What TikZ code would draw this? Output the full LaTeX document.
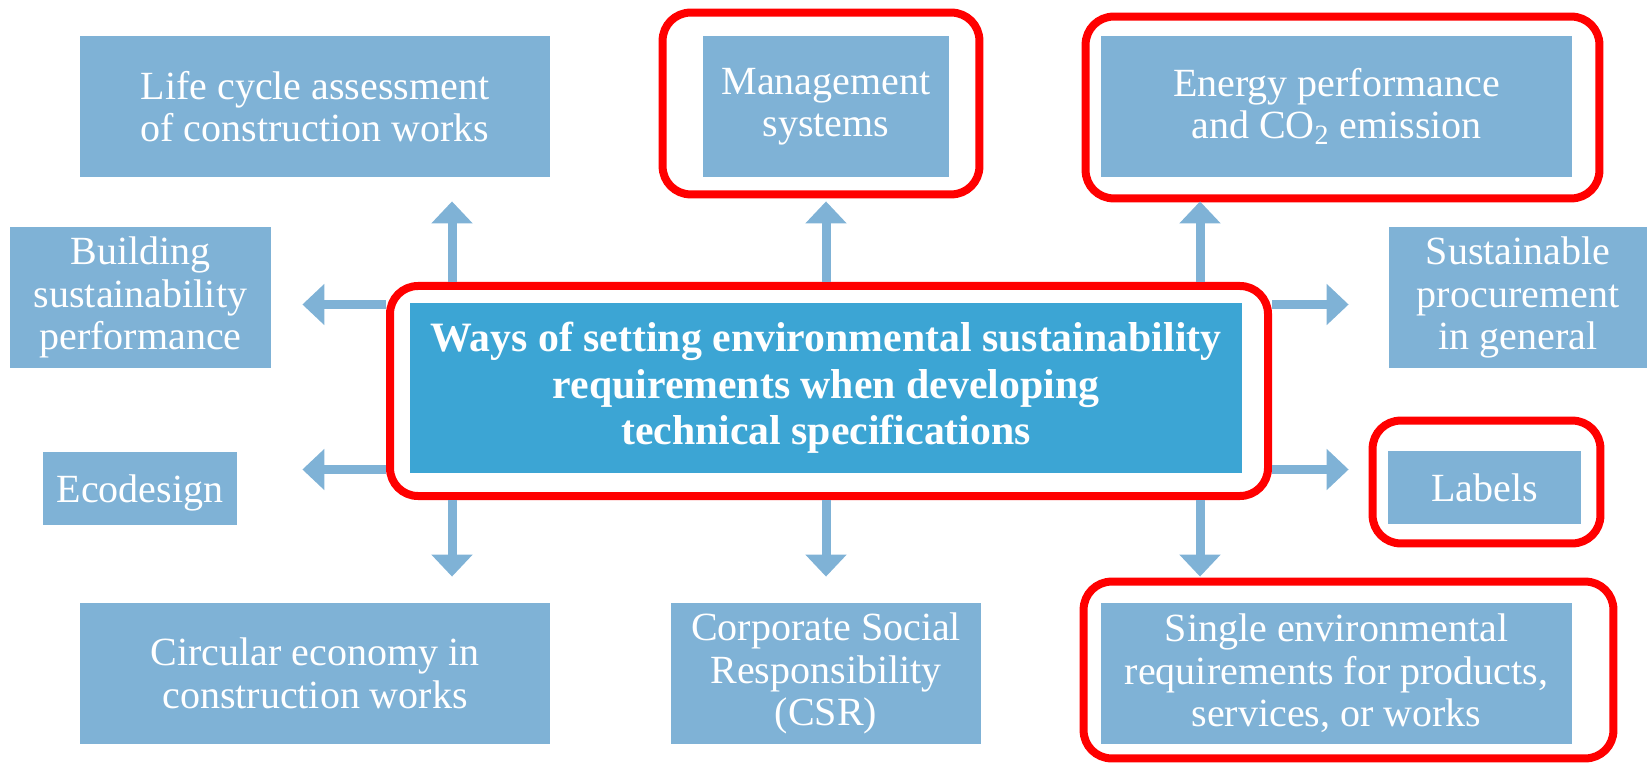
\documentclass[tikz,border=0pt]{standalone}
\usepackage{fontspec}
\setmainfont{Liberation Serif}
\usetikzlibrary{calc, arrows.meta}

\definecolor{boxblue}{HTML}{7FB2D6}
\definecolor{mainblue}{HTML}{3CA5D4}
\definecolor{markred}{HTML}{FF0000}

\begin{document}
\begin{tikzpicture}[x=1pt, y=-1pt,
    topic/.style={rectangle, fill=boxblue, text=white, align=center, inner sep=0pt,
        minimum height=70.5pt, font=\fontsize{20}{21.25}\selectfont},
    mainbox/.style={rectangle, fill=mainblue, text=white, align=center, inner sep=0pt,
        minimum width=416pt, minimum height=85pt, font=\bfseries\fontsize{20.9}{23.25}\selectfont},
    redframe/.style={draw=markred, line width=4pt, rounded corners=14pt},
    flow/.style={draw=boxblue, line width=4.5pt, -{Triangle[width=20pt, length=11pt]}}]

        \useasboundingbox (0,0) rectangle (823.5,382);

        %% Central box
        \node (waysframe) [redframe, minimum width=439pt, minimum height=105pt] at (414.5,195.5) {};
        \node (ways) [mainbox] at (413,194) {Ways of setting environmental sustainability\\ requirements when developing\\ technical specifications};

        %% Topics
        \node (lca) [topic, minimum width=235pt] at (157.5,53.25) {Life cycle assessment\\ of construction works};
        \node (mgmt) [topic, minimum width=123pt] at (413,53.25) {Management\\ systems};
        \node (energy) [topic, minimum width=235.5pt] at (668.25,53.25) {Energy performance\\ and CO\textsubscript{2} emission};
        \node (build) [topic, minimum width=130.5pt] at (70.25,148.75) {Building\\ sustainability\\ performance};
        \node (sust) [topic, minimum width=129.5pt] at (759,148.75) {Sustainable\\ procurement\\ in general};
        \node (eco) [topic, minimum width=97pt, minimum height=36.5pt, text depth=0pt] at (70,244.25) {Ecodesign};
        \node (labels) [topic, minimum width=96.5pt, minimum height=36.5pt] at (742.25,243.75) {Labels};
        \node (circ) [topic, minimum width=235pt] at (157.5,336.75) {Circular economy in\\ construction works};
        \node (csr) [topic, minimum width=155pt] at (413,336.75) {Corporate Social\\ Responsibility\\ (CSR)};
        \node (single) [topic, minimum width=235.5pt] at (668.25,336.75) {Single environmental\\ requirements for products,\\ services, or works};

        %% Red marks
        \draw [redframe] ($(mgmt.north west)+(-20,-11.5)$) rectangle ($(mgmt.south east)+(15,8.5)$);
        \draw [redframe] ($(energy.north west)+(-7.5,-9.5)$) rectangle ($(energy.south east)+(13.5,10.5)$);
        \draw [redframe] ($(labels.north west)+(-7.5,-15)$) rectangle ($(labels.south east)+(9.5,9.5)$);
        \draw [redframe] ($(single.north west)+(-8.5,-10.5)$) rectangle ($(single.south east)+(20.5,7)$);

        %% Arrows
        \coordinate (colL) at (226,0);
        \coordinate (colM) at (413,0);
        \coordinate (colR) at (600,0);
        \coordinate (rowT) at (0,152.25);
        \coordinate (rowB) at (0,234.75);

        \draw [flow, shorten >=12pt] (waysframe.north -| colL) -- (lca.south -| colL);
        \draw [flow, shorten >=12pt] (waysframe.north -| colM) -- (mgmt.south);
        \draw [flow, shorten >=12pt] (waysframe.north -| colR) -- (energy.south -| colR);
        \draw [flow, shorten >=13pt] (waysframe.south -| colL) -- (circ.north -| colL);
        \draw [flow, shorten >=13pt] (waysframe.south -| colM) -- (csr.north);
        \draw [flow, shorten >=13pt] (waysframe.south -| colR) -- (single.north -| colR);
        \draw [flow, shorten >=15.5pt] (waysframe.west |- rowT) -- (build.east |- rowT);
        \draw [flow, shorten >=32.5pt] (waysframe.west |- rowB) -- (eco.east |- rowB);
        \draw [flow, shorten >=19.75pt] (waysframe.east |- rowT) -- (sust.west |- rowT);
        \draw [flow, shorten >=19.5pt] (waysframe.east |- rowB) -- (labels.west |- rowB);

\end{tikzpicture}
\end{document}
